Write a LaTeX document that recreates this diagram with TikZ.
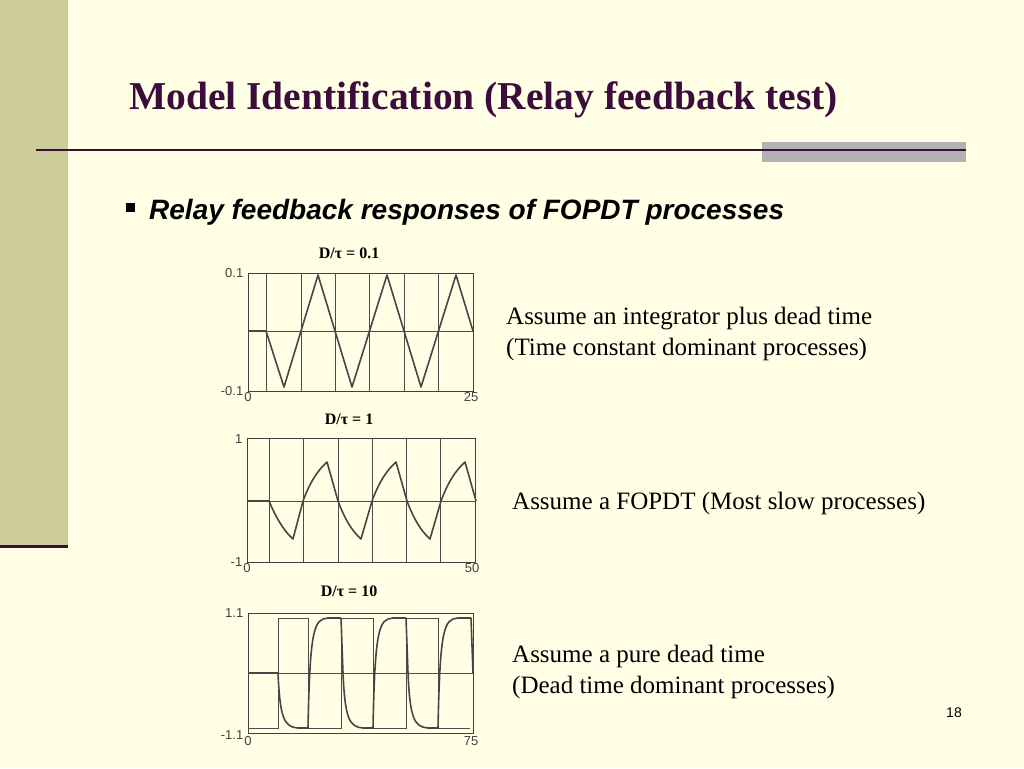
\documentclass[tikz,border=0pt]{standalone}
\usepackage{fontspec}
\setmainfont{Liberation Serif}
\setsansfont{Liberation Sans}
\usetikzlibrary{positioning}
\definecolor{slidebg}{RGB}{255,255,229}
\definecolor{sidebar}{RGB}{204,204,153}
\definecolor{plum}{RGB}{60,12,60}
\definecolor{bargray}{RGB}{178,178,178}
\definecolor{curvegray}{RGB}{70,70,70}
\tikzset{
  plotbox/.style={draw=black!75, line width=0.8pt},
  grid line/.style={draw=black!70, line width=0.6pt},
  resp/.style={draw=curvegray, line width=1.6pt, line join=round},
  ticklbl/.style={font=\sffamily\fontsize{13}{13}\selectfont, text=black!75, inner sep=0.5pt},
  plottitle/.style={font=\bfseries\fontsize{16}{16}\selectfont, inner sep=0.5pt},
  note/.style={font=\fontsize{25}{31}\selectfont, anchor=west, align=left, inner sep=0pt}
}
\begin{document}
\begin{tikzpicture}[x=1pt,y=-1pt]
\useasboundingbox (0,0) rectangle (1024,768);
\fill[slidebg] (0,0) rectangle (1024,768);

%side bar and rules
\fill[sidebar] (0,0) rectangle (68,545);
\draw[plum, line width=3pt] (0,546) -- (68,546);
\fill[bargray] (762,142) rectangle (966,162);
\draw[plum, line width=1.6pt] (36,150) -- (966,150);

% Title
\node[anchor=west, text=plum, font=\bfseries\fontsize{39.5}{42}\selectfont, inner sep=0pt] (title) at (129,100) {Model Identification (Relay feedback test)};
% Bullet
\fill (126,203) rectangle (135,212);
\node[anchor=west, font=\sffamily\bfseries\itshape\fontsize{28}{30}\selectfont, inner sep=0pt] (sub) at (149,212) {Relay feedback responses of FOPDT processes};

%Plot 1
\node[plottitle] (t1) at (349,253) {D/τ = 0.1};
\draw[plotbox] (248,273) rectangle (473,391);
\draw[grid line] (248,331) -- (473,331);
\foreach \x in {266,301,335,369,404,438} \draw[grid line] (\x,273) -- (\x,391);
\draw[resp] (248,331) -- (266,331) -- (284,387) -- (318,275) -- (352,387) -- (387,275) -- (421,387) -- (456,275) -- (473,331);
\node[ticklbl, anchor=east] (p1a) at (244,273) {0.1};
\node[ticklbl, anchor=east] (p1b) at (244,391) {-0.1};
\node[ticklbl, anchor=north] (p1c) at (248,392) {0};
\node[ticklbl, anchor=north] (p1d) at (471,392) {25};

%Plot 2
\node[plottitle] (t2) at (349,419) {D/τ = 1};
\draw[plotbox] (247,438) rectangle (475,562);
\draw[grid line] (247,501) -- (475,501);
\foreach \x in {269,303,338,372,406,440} \draw[grid line] (\x,438) -- (\x,562);
\draw[resp] (247,501) -- (269,501) .. controls (277,520) and (285,532) .. (293,539) -- (303,501);
\foreach \s in {0,69,138}{
  \draw[resp] ([xshift=\s]303,501) .. controls ([xshift=\s]310,482) and ([xshift=\s]318,470) .. ([xshift=\s]327,462) -- ([xshift=\s]338,501);
}
\foreach \s in {0,69}{
  \draw[resp] ([xshift=\s]338,501) .. controls ([xshift=\s]345,520) and ([xshift=\s]353,532) .. ([xshift=\s]361,539) -- ([xshift=\s]372,501);
}
\node[ticklbl, anchor=east] (p2a) at (243,439) {1};
\node[ticklbl, anchor=east] (p2b) at (243,562) {-1};
\node[ticklbl, anchor=north] (p2c) at (247,563) {0};
\node[ticklbl, anchor=north] (p2d) at (472,563) {50};

%Plot 3
\node[plottitle] (t3) at (349,591) {D/τ = 10};
\draw[plotbox] (248,613) rectangle (473,733);
\draw[grid line] (248,673) -- (473,673);
\draw[grid line] (248,728) -- (278,728) -- (278,618) -- (308,618) -- (308,728) -- (341,728) -- (341,618) -- (373,618) -- (373,728) -- (406,728) -- (406,618) -- (438,618) -- (438,728) -- (470,728);
\draw[resp] (248,673) -- (278,673);
\foreach \s in {0,65,130}{
  \draw[resp] ([xshift=\s]278,673) .. controls ([xshift=\s]280,718) and ([xshift=\s]284,727) .. ([xshift=\s]298,728) -- ([xshift=\s]308,728)
    .. controls ([xshift=\s]310,628) and ([xshift=\s]314,619) .. ([xshift=\s]328,618) -- ([xshift=\s]341,618);
}
\draw[resp] (341,618) -- (343,673);
\draw[resp] (406,618) -- (408,673);
\draw[resp] (471,618) -- (473,673);
\node[ticklbl, anchor=east] (p3a) at (244,613) {1.1};
\node[ticklbl, anchor=east] (p3b) at (244,735) {-1.1};
\node[ticklbl, anchor=north] (p3c) at (248,736) {0};
\node[ticklbl, anchor=north] (p3d) at (471,736) {75};

%Notes
\node[note] (n1) at (506,334) {Assume an integrator plus dead time\\(Time constant dominant processes)};
\node[note] (n2) at (512,503) {Assume a FOPDT (Most slow processes)};
\node[note] (n3) at (512,672) {Assume a pure dead time\\(Dead time dominant processes)};
\node[font=\sffamily\fontsize{14}{14}\selectfont] (pg) at (954,713) {18};
\end{tikzpicture}
\end{document}
